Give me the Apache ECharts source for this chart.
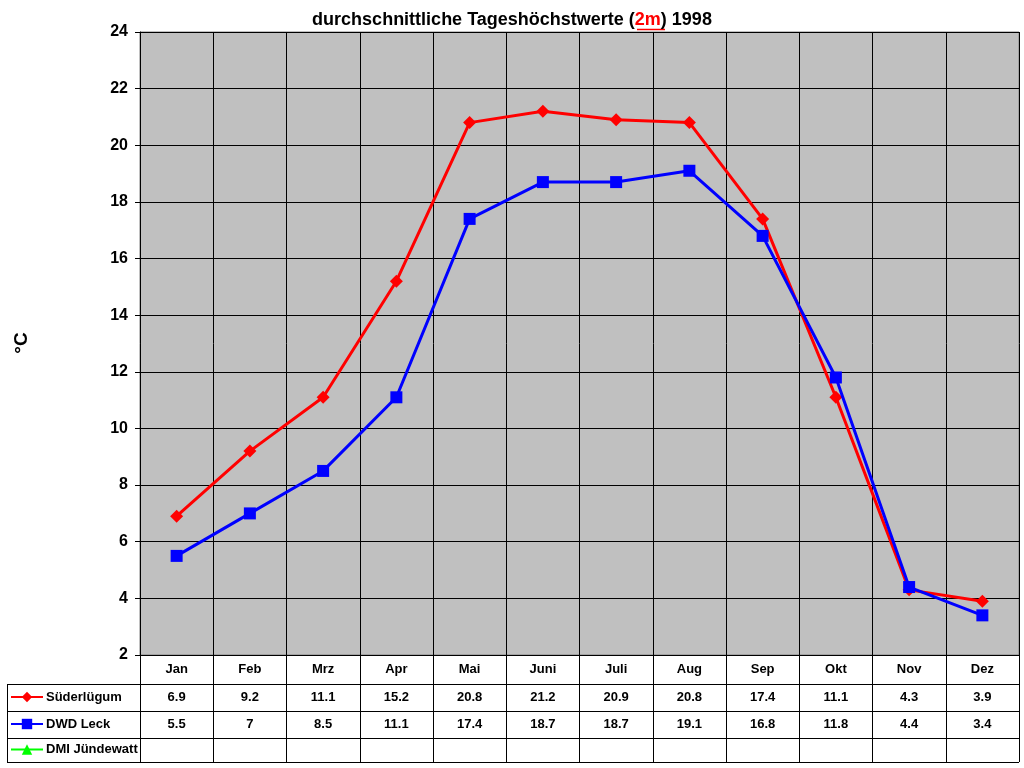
<!DOCTYPE html>
<html>
<head>
<meta charset="utf-8">
<script src="https://cdn.jsdelivr.net/npm/echarts@6/dist/echarts.min.js"></script>
<style>
  html, body { margin: 0; padding: 0; background: #fff; }
  #chart { width: 1024px; height: 768px; }
</style>
</head>
<body>
<div id="chart"></div>
<script>
// data
const months = ['Jan', 'Feb', 'Mrz', 'Apr', 'Mai', 'Juni', 'Juli', 'Aug', 'Sep', 'Okt', 'Nov', 'Dez'];
const suederluegum = [6.9, 9.2, 11.1, 15.2, 20.8, 21.2, 20.9, 20.8, 17.4, 11.1, 4.3, 3.9];
const dwdLeck = [5.5, 7, 8.5, 11.1, 17.4, 18.7, 18.7, 19.1, 16.8, 11.8, 4.4, 3.4];
const dmiJuendewatt = [null, null, null, null, null, null, null, null, null, null, null, null];
const seriesNames = ['Süderlügum', 'DWD Leck', 'DMI Jündewatt'];

const FONT = '"Liberation Sans", Arial, sans-serif';
const chart = echarts.init(document.getElementById('chart'));

const rowCenters = [697.5, 724.5, 750];

function legendFor(name, i) {
  return {
    data: [name],
    left: 10,
    top: rowCenters[i] - 7,
    padding: 0,
    itemWidth: 32,
    itemHeight: 13,
    itemGap: 3,
    selectedMode: false,
    textStyle: { fontFamily: FONT, fontWeight: 'bold', fontSize: 13, color: '#000', padding: [0, 0, 0, -2] }
  };
}

chart.setOption({
  animation: false,
  backgroundColor: '#fff',
  title: {
    text: 'durchschnittliche Tageshöchstwerte ({r|2m}) 1998',
    left: 'center',
    top: 11,
    padding: 0,
    textStyle: {
      fontFamily: FONT, fontWeight: 'bold', fontSize: 18, color: '#000',
      rich: { r: { fontFamily: FONT, fontWeight: 'bold', fontSize: 18, color: '#ff0000' } }
    }
  },
  legend: seriesNames.map(legendFor),
  grid: {
    left: 140, right: 5, top: 32, bottom: 113,
    show: true, backgroundColor: '#c0c0c0', borderColor: '#808080', borderWidth: 1
  },
  xAxis: {
    type: 'category',
    data: months,
    boundaryGap: true,
    axisLine: { show: true, lineStyle: { color: '#000', width: 1 } },
    axisTick: { show: true, length: 107, lineStyle: { color: '#000', width: 1 } },
    axisLabel: { margin: 8, fontFamily: FONT, fontWeight: 'bold', fontSize: 13, color: '#000' },
    splitLine: { show: true, lineStyle: { color: '#000', width: 1 } }
  },
  yAxis: {
    type: 'value',
    min: 2, max: 24, interval: 2,
    axisLine: { show: true, lineStyle: { color: '#000' } },
    axisTick: { show: true, length: 5, lineStyle: { color: '#000' } },
    axisLabel: { margin: 12, fontFamily: FONT, fontWeight: 'bold', fontSize: 16, color: '#000' },
    splitLine: { show: true, lineStyle: { color: '#000', width: 1 } }
  },
  series: [
    {
      name: seriesNames[0], type: 'line', data: suederluegum,
      symbol: 'diamond', symbolSize: 13,
      lineStyle: { color: '#ff0000', width: 3 },
      itemStyle: { color: '#ff0000' }, z: 3
    },
    {
      name: seriesNames[1], type: 'line', data: dwdLeck,
      symbol: 'rect', symbolSize: 12,
      lineStyle: { color: '#0000ff', width: 3 },
      itemStyle: { color: '#0000ff' }, z: 4
    },
    {
      name: seriesNames[2], type: 'line', data: dmiJuendewatt,
      symbol: 'triangle', symbolSize: 12,
      lineStyle: { color: '#00ff00', width: 3 },
      itemStyle: { color: '#00ff00' }
    }
  ]
});

// data table + extra text, positioned via the axis scale
const tableRows = [suederluegum, dwdLeck, dmiJuendewatt];
const graphics = [];
const lineStyle = { stroke: '#000', lineWidth: 1 };
[684, 711, 738, 762].forEach(function (y) {
  graphics.push({ type: 'line', shape: { x1: 7, y1: y + 0.5, x2: 1019, y2: y + 0.5 }, style: lineStyle, silent: true });
});
graphics.push({ type: 'line', shape: { x1: 7.5, y1: 684, x2: 7.5, y2: 762 }, style: lineStyle, silent: true });
tableRows.forEach(function (row, r) {
  row.forEach(function (v, i) {
    if (v === null) return;
    const x = chart.convertToPixel({ xAxisIndex: 0 }, months[i]);
    graphics.push({
      type: 'text', x: x, y: rowCenters[r], silent: true,
      style: { text: String(v), fontFamily: FONT, fontWeight: 'bold', fontSize: 13, fill: '#000', align: 'center', verticalAlign: 'middle' }
    });
  });
});
graphics.push({
  type: 'text', x: 22, y: 343, rotation: Math.PI / 2, silent: true,
  style: { text: '°C', fontFamily: FONT, fontWeight: 'bold', fontSize: 19, fill: '#000', align: 'center', verticalAlign: 'middle' }
});
// underline for the red "2m" in the title
graphics.push({ type: 'line', shape: { x1: 637, y1: 29.5, x2: 665, y2: 29.5 }, style: { stroke: '#ff0000', lineWidth: 1.5 }, silent: true });

chart.setOption({ graphic: graphics });
</script>
</body>
</html>
